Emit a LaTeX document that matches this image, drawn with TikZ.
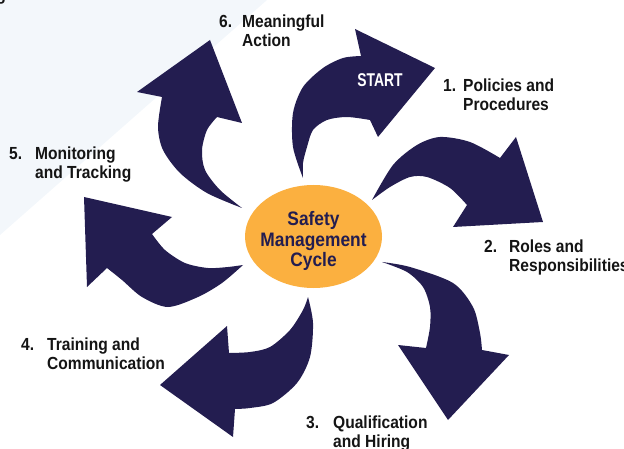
\documentclass[tikz,border=0pt]{standalone}
\usepackage{fontspec}
\setmainfont{Liberation Sans}[FakeStretch=0.89]
\newfontfamily\startfont{Liberation Sans}[FakeStretch=0.75]
\usetikzlibrary{shapes.geometric}
\definecolor{navy}{RGB}{35,29,80}
\definecolor{sorange}{RGB}{251,176,64}
\definecolor{bgc}{RGB}{243,247,251}
\definecolor{labc}{RGB}{20,20,20}
\newcommand\cyclab[4]{\begin{tabular}[t]{@{}l@{}l@{}}\makebox[#1][l]{#2}&#3\\&#4\end{tabular}}
\tikzset{
  arrowshape/.style={fill=navy},
  lab/.style={anchor=base west, inner sep=0pt, text=labc, font=\fontsize{17.5}{19}\selectfont\bfseries},
  cycellipse/.style={ellipse, fill=sorange, minimum width=137pt, minimum height=103pt, inner sep=0pt},
  cyctext/.style={align=center, inner sep=0pt, text=navy, font=\fontsize{19.5}{20.3}\selectfont\bfseries},
  starttext/.style={inner sep=0pt, text=white, font=\fontsize{18.5}{20}\startfont\bfseries},
}
\begin{document}
\begin{tikzpicture}[x=1pt,y=-1pt]
\useasboundingbox (0,0) rectangle (624,449);
\clip (0,0) rectangle (624,449);
% background
\fill[bgc] (0,0) -- (267,0) -- (0,235) -- cycle;
\node[lab, anchor=base east] (frag) at (6,1) {g};
% arrow 1 (START)
\fill[arrowshape] (303,178) -- plot[smooth] coordinates {(303,178) (293,147) (293,113) (303,87) (323,68) (343,58) (361,56)}
  -- (355,29) -- (435,68) -- (378,137) -- (370,120)
  -- plot[smooth] coordinates {(370,120) (347,117) (327,120) (313,130) (307,147) (303,163) (303,178)} -- cycle;
% arrow 2
\fill[arrowshape] (372,200) -- plot[smooth] coordinates {(372,200) (393,165) (417,145) (440,137) (470,142) (500,158)}
  -- (516,137) -- (543,222) -- (453,227) -- (467,205)
  -- plot[smooth] coordinates {(467,205) (450,188) (427,177) (410,177) (390,187) (372,200)} -- cycle;
% arrow 3
\fill[arrowshape] (382,262) -- plot[smooth] coordinates {(382,262) (410,267) (453,283) (473,307) (480,333) (482,350)}
  -- (509,355) -- (448,420) -- (398,345) -- (426,348)
  -- plot[smooth] coordinates {(426,348) (430,327) (430,307) (423,287) (407,272) (382,262)} -- cycle;
% arrow 4
\fill[arrowshape] (308,297) -- plot[smooth] coordinates {(308,297) (313,323) (310,357) (297,383) (273,403) (250,408) (235,409)}
  -- (233,437) -- (160,385) -- (227,326) -- (229,353)
  -- plot[smooth] coordinates {(229,353) (250,352) (270,347) (290,330) (303,310) (308,297)} -- cycle;
% arrow 5
\fill[arrowshape] (243,265) -- plot[smooth] coordinates {(243,265) (222,283) (198,297) (168,307) (142,297) (122,280) (107,268)}
  -- (87,287) -- (84,197) -- (172,217) -- (152,234)
  -- plot[smooth] coordinates {(152,234) (165,250) (185,263) (208,268) (228,267) (243,265)} -- cycle;
% arrow 6
\fill[arrowshape] (242,208) -- plot[smooth] coordinates {(242,208) (207,193) (180,173) (163,150) (158,127) (162,97)}
  -- (137,92) -- (210,40) -- (242,123) -- (217,117)
  -- plot[smooth] coordinates {(217,117) (207,130) (202,150) (205,170) (220,190) (242,208)} -- cycle;
% centre
\node[cycellipse] (cyc) at (313.5,236.5) {};
\node[cyctext] (cyct) at (313.5,241) {Safety\\Management\\Cycle};
\node[starttext] (start) at (380,80) {START};
% labels
\node[lab] (l1) at (443,92) {\cyclab{20pt}{1.}{Policies and}{Procedures}};
\node[lab] (l2) at (484,253) {\cyclab{25pt}{2.}{Roles and}{Responsibilities}};
\node[lab] (l3) at (306,428) {\cyclab{27pt}{3.}{Qualification}{and Hiring}};
\node[lab] (l4) at (21,350) {\cyclab{26pt}{4.}{Training and}{Communication}};
\node[lab] (l5) at (9,160) {\cyclab{26pt}{5.}{Monitoring}{and Tracking}};
\node[lab] (l6) at (219,28) {\cyclab{23pt}{6.}{Meaningful}{Action}};
\end{tikzpicture}
\end{document}
